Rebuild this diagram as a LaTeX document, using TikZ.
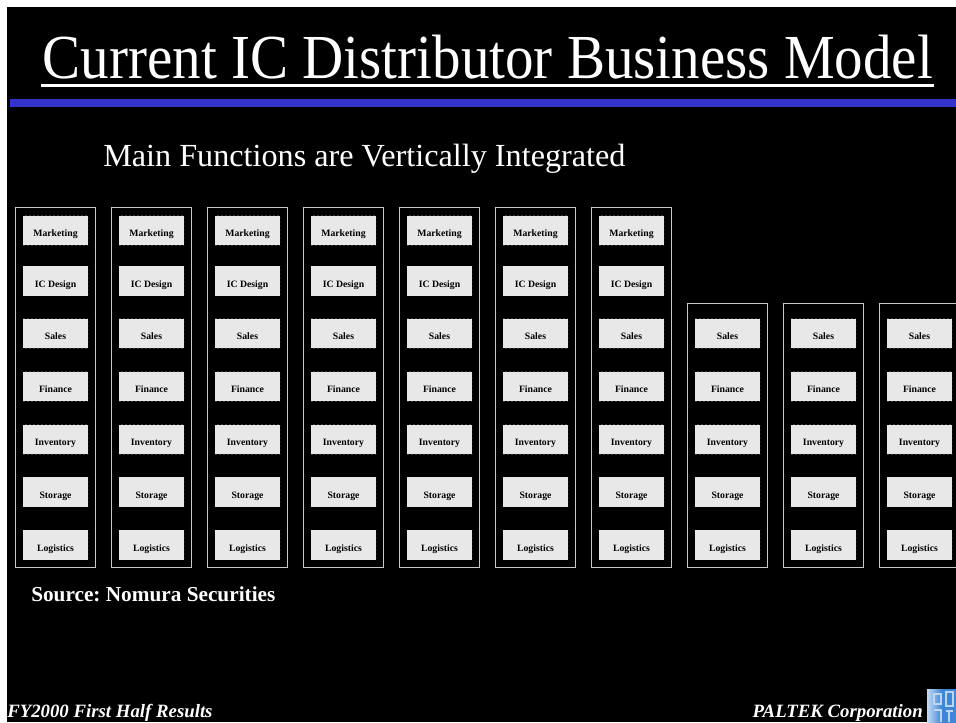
\documentclass[tikz,border=0pt]{standalone}
\usepackage{fontspec}
\usetikzlibrary{patterns}
\setmainfont{Liberation Serif}
\newfontfamily\titlefont[FakeStretch=0.91]{Liberation Serif}
\definecolor{barblue}{HTML}{3333CC}
\definecolor{marble}{HTML}{EAEAEA}
\definecolor{vein}{HTML}{DCDCDC}
\definecolor{framegray}{HTML}{C8C8C8}
\definecolor{logoblue}{HTML}{3F86D8}
\tikzset{
  funcbox/.style={rectangle,fill=marble,minimum width=48.75pt,minimum height=22pt,inner sep=0pt,
    text height=9pt,text depth=0pt,font=\bfseries\fontsize{7.3}{8}\selectfont,text=black,
    postaction={pattern=crosshatch dots,pattern color=vein}},
  colframe/.style={rectangle,draw=framegray,line width=0.75pt,minimum width=60.25pt,inner sep=0pt}
}
\begin{document}
\begin{tikzpicture}[x=0.75pt,y=-0.75pt]
  \clip (0,0) rectangle (956,722);
  \fill[white] (0,0) rectangle (956,722);
  \fill[black] (7,7) rectangle (956,722);
  % heading
  \node[text=white,font=\titlefont\fontsize{47}{50}\selectfont,anchor=base,inner sep=0pt] (title) at(488,78) {Current IC Distributor Business Model};
  \fill[white] (41,84) rectangle (934,87);
  \fill[barblue] (10,99) rectangle (956,107);
  \node[text=white,font=\fontsize{24.15}{28}\selectfont,anchor=base west,inner sep=0pt] (subtitle) at(103,166) {Main Functions are Vertically Integrated};
  % tall columns
  \foreach \col in {0,...,6}{
    \node[colframe,minimum height=270pt] (frame\col) at({55.5+96*\col},387.5) {};
    \node[funcbox] (mkt\col) at({55.5+96*\col},230.5) {Marketing};
    \node[funcbox] (des\col) at({55.5+96*\col},281) {IC Design};
  }
  % short columns
  \foreach \col in {7,8,9}{
    \node[colframe,minimum height=198pt] (frame\col) at({55.5+96*\col},435.5) {};
  }
  % rows every column has
  \foreach \col in {0,...,9}{
    \node[funcbox] (sal\col) at({55.5+96*\col},333.5) {Sales};
    \node[funcbox] (fin\col) at({55.5+96*\col},386.5) {Finance};
    \node[funcbox] (inv\col) at({55.5+96*\col},439.5) {Inventory};
    \node[funcbox] (sto\col) at({55.5+96*\col},492) {Storage};
    \node[funcbox] (log\col) at({55.5+96*\col},545) {Logistics};
  }
  % footer
  \node[text=white,font=\bfseries\fontsize{15.95}{18}\selectfont,anchor=base west,inner sep=0pt] (source) at(31,601) {\frenchspacing Source: Nomura Securities};
  \node[text=white,font=\bfseries\itshape\fontsize{14.1}{16}\selectfont,anchor=base west,inner sep=0pt] (period) at(7,717) {FY2000 First Half Results};
  \node[text=white,font=\bfseries\itshape\fontsize{14.1}{16}\selectfont,anchor=base east,inner sep=0pt] (company) at(923,717) {PALTEK Corporation};
  \shade[left color=white!70!logoblue,right color=logoblue,middle color=logoblue] (927,689) rectangle (956,722);
  \draw[white!65!logoblue,line width=1pt] (934,694) rectangle (941,704) (946,692) rectangle (953,706) (934,710) -- (941,710) -- (941,722) (946,711) -- (953,711) (949,711) -- (949,722);
\end{tikzpicture}
\end{document}
